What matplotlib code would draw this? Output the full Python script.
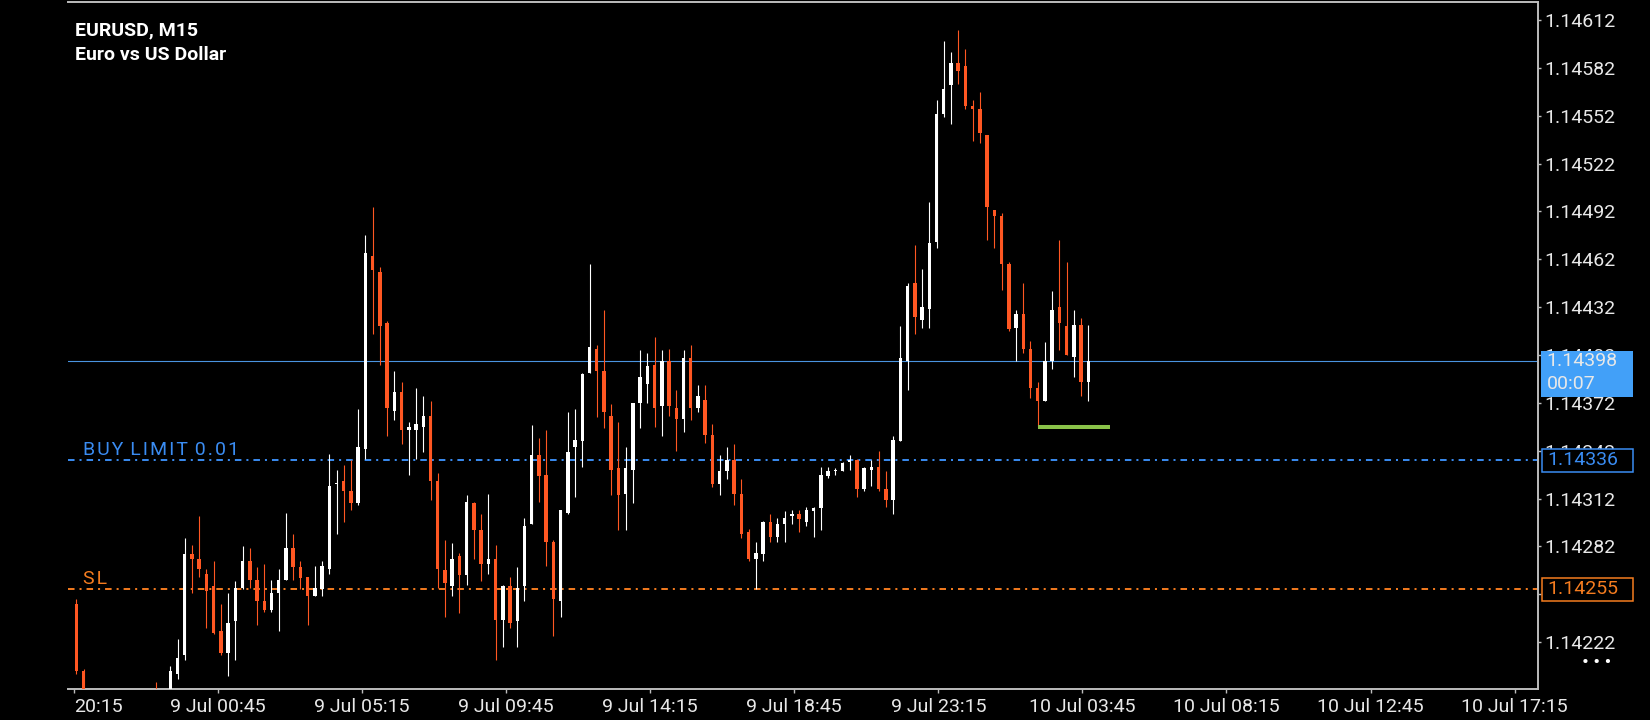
import matplotlib
matplotlib.use("Agg")
import matplotlib.pyplot as plt
import matplotlib.transforms as mtransforms
from matplotlib.patches import Rectangle
import numpy as np

plt.rcParams['font.family'] = ['Roboto', 'DejaVu Sans']
plt.rcParams['lines.scale_dashes'] = False

# EURUSD M15 candles (bars 2-10 and 12 sit below the visible range)
opens = [1.14246, 1.14204, 1.14176, 1.14168, 1.14172, 1.14180, 1.14170, 1.14175, 1.14178, 1.14182,
         1.14176, 1.14186, 1.14179, 1.14183, 1.14202, 1.14214, 1.14277, 1.14274, 1.14265, 1.14257,
         1.14229, 1.14215, 1.14235, 1.14256, 1.14273, 1.14261, 1.14248, 1.14242, 1.14253, 1.14261,
         1.14281, 1.14269, 1.14263, 1.14251, 1.14255, 1.14268, 1.14321, 1.14323, 1.14317, 1.14309,
         1.14343, 1.14464, 1.14454, 1.14422, 1.14367, 1.14379, 1.14355, 1.14355, 1.14357, 1.14364,
         1.14323, 1.14267, 1.14257, 1.14276, 1.14264, 1.14309, 1.14292, 1.14271, 1.14274, 1.14236,
         1.14257, 1.14235, 1.14257, 1.14296, 1.14339, 1.14327, 1.14285, 1.14248, 1.14303, 1.14344,
         1.14348, 1.14391, 1.14406, 1.14392, 1.14364, 1.14331, 1.14315, 1.14330, 1.14372, 1.14384,
         1.14396, 1.14370, 1.14398, 1.14369, 1.14362, 1.14400, 1.14369, 1.14374, 1.14352, 1.14321,
         1.14329, 1.14336, 1.14315, 1.14291, 1.14274, 1.14277, 1.14297, 1.14288, 1.14296, 1.14301,
         1.14302, 1.14297, 1.14304, 1.14306, 1.14326, 1.14329, 1.14329, 1.14335, 1.14336, 1.14318,
         1.14330, 1.14332, 1.14318, 1.14311, 1.14348, 1.14398, 1.14447, 1.14424, 1.14431, 1.14473,
         1.14553, 1.14571, 1.14585, 1.14583, 1.14558, 1.14556, 1.14540, 1.14493, 1.14489, 1.14459,
         1.14419, 1.14428, 1.14406, 1.14381, 1.14373, 1.14398, 1.14432, 1.14420, 1.14401, 1.14421,
         1.14385]
highs = [1.14249, 1.14205, 1.14184, 1.14178, 1.14185, 1.14188, 1.14182, 1.14186, 1.14189, 1.14188,
         1.14186, 1.14197, 1.14188, 1.14207, 1.14224, 1.14287, 1.14283, 1.14301, 1.14268, 1.14273,
         1.14246, 1.14253, 1.14260, 1.14282, 1.14281, 1.14269, 1.14271, 1.14261, 1.14268, 1.14303,
         1.14290, 1.14273, 1.14263, 1.14270, 1.14273, 1.14340, 1.14330, 1.14333, 1.14336, 1.14368,
         1.14477, 1.14495, 1.14457, 1.14423, 1.14392, 1.14385, 1.14360, 1.14381, 1.14376, 1.14373,
         1.14328, 1.14286, 1.14284, 1.14278, 1.14314, 1.14310, 1.14302, 1.14315, 1.14283, 1.14258,
         1.14263, 1.14269, 1.14300, 1.14358, 1.14350, 1.14355, 1.14286, 1.14305, 1.14366, 1.14368,
         1.14391, 1.14459, 1.14408, 1.14430, 1.14371, 1.14360, 1.14344, 1.14372, 1.14405, 1.14403,
         1.14413, 1.14405, 1.14406, 1.14380, 1.14405, 1.14408, 1.14383, 1.14383, 1.14359, 1.14339,
         1.14344, 1.14346, 1.14324, 1.14293, 1.14285, 1.14298, 1.14302, 1.14300, 1.14304, 1.14305,
         1.14305, 1.14307, 1.14307, 1.14332, 1.14332, 1.14331, 1.14335, 1.14339, 1.14337, 1.14332,
         1.14336, 1.14342, 1.14329, 1.14351, 1.14420, 1.14447, 1.14471, 1.14456, 1.14498, 1.14562,
         1.14599, 1.14592, 1.14606, 1.14594, 1.14562, 1.14567, 1.14540, 1.14493, 1.14491, 1.14460,
         1.14430, 1.14447, 1.14411, 1.14385, 1.14410, 1.14442, 1.14474, 1.14460, 1.14430, 1.14425,
         1.14421]
lows = [1.14202, 1.14170, 1.14160, 1.14155, 1.14162, 1.14166, 1.14158, 1.14164, 1.14168, 1.14170,
        1.14165, 1.14172, 1.14170, 1.14178, 1.14199, 1.14211, 1.14253, 1.14263, 1.14231, 1.14227,
        1.14214, 1.14201, 1.14211, 1.14255, 1.14256, 1.14233, 1.14241, 1.14241, 1.14229, 1.14261,
        1.14261, 1.14255, 1.14233, 1.14251, 1.14251, 1.14265, 1.14290, 1.14297, 1.14305, 1.14308,
        1.14337, 1.14415, 1.14396, 1.14351, 1.14361, 1.14346, 1.14327, 1.14337, 1.14341, 1.14311,
        1.14256, 1.14238, 1.14251, 1.14240, 1.14258, 1.14274, 1.14260, 1.14265, 1.14211, 1.14219,
        1.14231, 1.14219, 1.14248, 1.14296, 1.14310, 1.14270, 1.14226, 1.14238, 1.14302, 1.14313,
        1.14332, 1.14391, 1.14363, 1.14356, 1.14314, 1.14292, 1.14292, 1.14309, 1.14356, 1.14372,
        1.14357, 1.14351, 1.14364, 1.14342, 1.14354, 1.14361, 1.14366, 1.14347, 1.14319, 1.14314,
        1.14324, 1.14308, 1.14287, 1.14273, 1.14255, 1.14273, 1.14285, 1.14285, 1.14285, 1.14296,
        1.14291, 1.14295, 1.14288, 1.14292, 1.14325, 1.14327, 1.14329, 1.14330, 1.14313, 1.14317,
        1.14320, 1.14317, 1.14307, 1.14302, 1.14348, 1.14380, 1.14415, 1.14419, 1.14419, 1.14469,
        1.14551, 1.14547, 1.14572, 1.14556, 1.14536, 1.14535, 1.14474, 1.14469, 1.14443, 1.14417,
        1.14398, 1.14403, 1.14375, 1.14357, 1.14373, 1.14393, 1.14405, 1.14402, 1.14388, 1.14376,
        1.14373]
closes = [1.14204, 1.14176, 1.14168, 1.14172, 1.14180, 1.14170, 1.14175, 1.14178, 1.14182, 1.14176,
          1.14181, 1.14179, 1.14183, 1.14204, 1.14212, 1.14277, 1.14274, 1.14268, 1.14254, 1.14228,
          1.14215, 1.14234, 1.14256, 1.14273, 1.14261, 1.14248, 1.14242, 1.14253, 1.14261, 1.14281,
          1.14269, 1.14262, 1.14251, 1.14256, 1.14270, 1.14320, 1.14322, 1.14317, 1.14309, 1.14344,
          1.14466, 1.14455, 1.14420, 1.14369, 1.14379, 1.14355, 1.14357, 1.14359, 1.14364, 1.14323,
          1.14268, 1.14259, 1.14274, 1.14264, 1.14310, 1.14292, 1.14271, 1.14274, 1.14236, 1.14257,
          1.14234, 1.14256, 1.14295, 1.14339, 1.14326, 1.14285, 1.14249, 1.14305, 1.14341, 1.14349,
          1.14390, 1.14407, 1.14392, 1.14366, 1.14330, 1.14314, 1.14331, 1.14372, 1.14388, 1.14395,
          1.14369, 1.14398, 1.14370, 1.14362, 1.14400, 1.14369, 1.14376, 1.14352, 1.14321, 1.14329,
          1.14336, 1.14315, 1.14290, 1.14274, 1.14278, 1.14297, 1.14288, 1.14296, 1.14300, 1.14302,
          1.14299, 1.14305, 1.14306, 1.14327, 1.14329, 1.14330, 1.14334, 1.14336, 1.14318, 1.14331,
          1.14332, 1.14318, 1.14311, 1.14349, 1.14400, 1.14445, 1.14426, 1.14432, 1.14472, 1.14553,
          1.14569, 1.14585, 1.14580, 1.14558, 1.14556, 1.14541, 1.14495, 1.14489, 1.14459, 1.14418,
          1.14428, 1.14406, 1.14381, 1.14373, 1.14398, 1.14430, 1.14422, 1.14402, 1.14421, 1.14385,
          1.14398]

time_labels = ["20:15", "9 Jul 00:45", "9 Jul 05:15", "9 Jul 09:45", "9 Jul 14:15",
               "9 Jul 18:45", "9 Jul 23:15", "10 Jul 03:45", "10 Jul 08:15",
               "10 Jul 12:45", "10 Jul 17:15"]
price_ticks = [1.14222, 1.14252, 1.14282, 1.14312, 1.14342, 1.14372, 1.14402,
               1.14432, 1.14462, 1.14492, 1.14522, 1.14552, 1.14582, 1.14612]

bid = 1.14398
timer = "00:07"
buy_limit = 1.14336
stop_loss = 1.14255
green_level = 1.14357
green_from, green_to = 133, 143

# colours
BG = "black"
BULL = "white"
BEAR = "#ff5722"
BLUE = "#3a8cf2"
ORANGE = "#f57c1f"
BID_BLUE = "#4a94e0"
AXIS = "#bdbdbd"
TEXT = "#e8e8e8"


def spaced(s):
    # object labels in the terminal are drawn with a little extra tracking
    return "\u200a ".join("\u200a".join(w) for w in s.split(" "))


W, H = 1650, 720
fig = plt.figure(figsize=(W / 100, H / 100), dpi=100, facecolor=BG)
ax = fig.add_axes([68.3 / W, 1 - 689.3 / H, (1537.7 - 68.3) / W, (689.3 - 1.7) / H])
ax.set_facecolor(BG)

ymin, ymax = 1.141924, 1.146235
ax.set_ylim(ymin, ymax)
ax.set_xlim(-1.107, 202.17)
px = (ymax - ymin) / (689.3 - 1.7)   # price per pixel

o = np.array(opens)
h = np.array(highs)
l = np.array(lows)
c = np.array(closes)
x = np.arange(len(o))
cols = np.where(c >= o, BULL, BEAR)

ax.vlines(x, l, h, colors=cols, linewidth=0.8, zorder=3)
body_lo = np.minimum(o, c)
body_h = np.maximum(np.abs(c - o), 1.3 * px)
ax.bar(x, body_h, bottom=body_lo, width=0.48, color=cols, linewidth=0, zorder=4)

# levels
ax.axhline(bid, color=BID_BLUE, linewidth=0.8, zorder=2)
dashdot = (0, (4.7, 3.6, 1.45, 3.6))
ax.axhline(buy_limit, color=BLUE, linewidth=1.4, linestyle=dashdot, zorder=2)
ax.axhline(stop_loss, color=ORANGE, linewidth=1.4, linestyle=dashdot, zorder=2)
ax.hlines(green_level, green_from, green_to, color="#8bc34a", linewidth=2.9, zorder=5)

trans = mtransforms.blended_transform_factory(ax.transAxes, ax.transData)
ax.annotate(spaced("BUY LIMIT 0.01"), xy=(0, buy_limit), xycoords=trans, xytext=(10.8, 4.1),
            textcoords="offset points", va="baseline", ha="left", color=BLUE, fontsize=14)
ax.annotate(spaced("SL"), xy=(0, stop_loss), xycoords=trans, xytext=(10.8, 4.1),
            textcoords="offset points", va="baseline", ha="left", color=ORANGE, fontsize=14)

# symbol header
ax.text(0.0048, 0.9506, "EURUSD, M15", transform=ax.transAxes, color="white",
        fontsize=14, fontweight="bold", va="baseline")
ax.text(0.0048, 0.9152, "Euro vs US Dollar", transform=ax.transAxes, color="white",
        fontsize=14, fontweight="bold", va="baseline")

# axes
for side in ["top", "right", "bottom"]:
    ax.spines[side].set_color(AXIS)
    ax.spines[side].set_linewidth(1.4)
ax.spines["left"].set_visible(False)

ax.yaxis.tick_right()
ax.set_yticks(price_ticks)
ax.set_yticklabels([f"{v:.5f}" for v in price_ticks])
ax.tick_params(axis="y", colors=AXIS, labelcolor=TEXT, labelsize=14, length=2.4, width=1, pad=2.2)

tick_pos = np.arange(len(time_labels)) * 19.93 - 0.33
ax.set_xticks(tick_pos)
ax.set_xticklabels(time_labels)
ax.tick_params(axis="x", colors=AXIS, labelcolor=TEXT, labelsize=14, length=3, width=1, pad=3)
ax.get_xticklabels()[0].set_horizontalalignment("left")

# price boxes on the right scale (they cover the grid labels underneath)
bx0 = 1.0031
bw = 0.062
ax.add_patch(Rectangle((bx0 - 0.0007, bid - 35.4 * px), bw + 0.0007, 45.7 * px, transform=trans,
                       facecolor="#42a0f8", edgecolor="none", clip_on=False, zorder=10))
ax.text(bx0 + 0.0031, bid + 0.5 * px, f"{bid:.5f}", transform=trans, color=TEXT,
        fontsize=14, va="center", ha="left", zorder=11, clip_on=False)
ax.text(bx0 + 0.0031, bid - 22.5 * px, timer, transform=trans, color=TEXT,
        fontsize=14, va="center", ha="left", zorder=11, clip_on=False)

for val, col in [(buy_limit, BLUE), (stop_loss, ORANGE)]:
    ax.add_patch(Rectangle((bx0, val - 11.5 * px), bw, 23 * px, transform=trans,
                           facecolor=BG, edgecolor=col, linewidth=1.1, clip_on=False, zorder=10))
    ax.text(bx0 + 0.0034, val, f"{val:.5f}", transform=trans, color=col,
            fontsize=14, va="center", ha="left", zorder=11, clip_on=False)

fig.text(1597 / W, 1 - 662 / H, "\u2022\u2009\u2022\u2009\u2022", color="white", fontsize=15,
         ha="center", va="center")

fig.savefig("out.png", dpi=100, facecolor=BG)
